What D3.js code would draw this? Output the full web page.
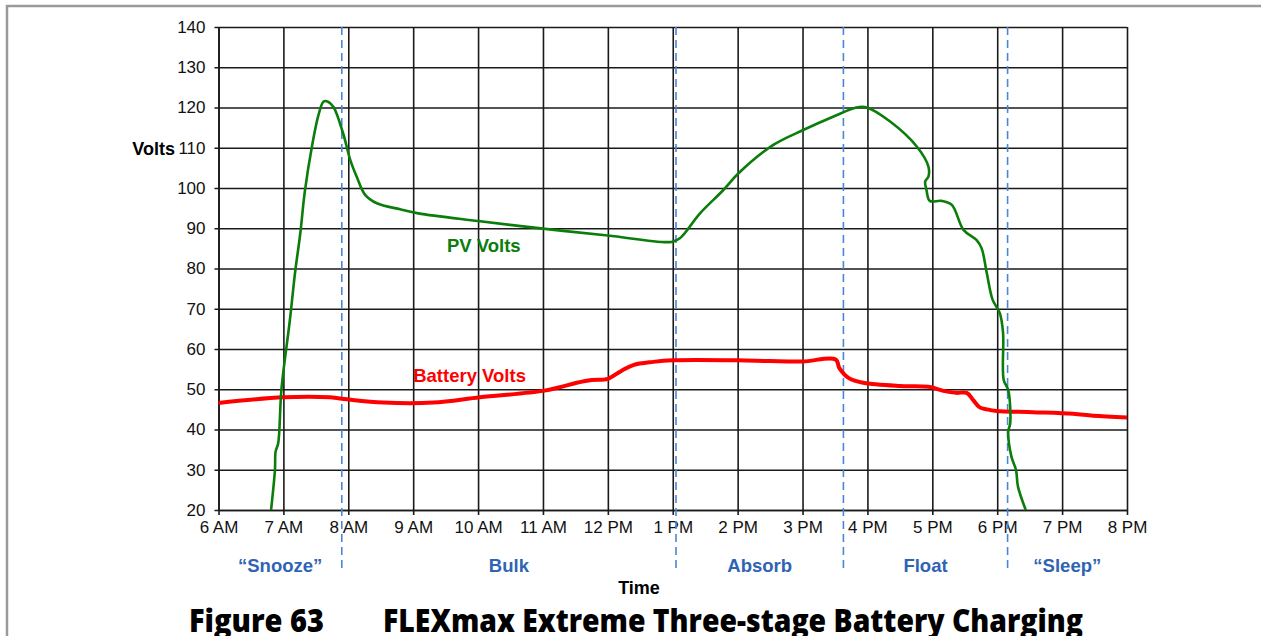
<!DOCTYPE html>
<html>
<head>
<meta charset="utf-8">
<script src="https://cdn.jsdelivr.net/npm/d3@7"></script>
<style>
body { margin: 0; background: #fff; }
text { font-family: "Liberation Sans", Arial, sans-serif; }
</style>
</head>
<body>
<script>
var width = 1261;
var height = 636;

// time in hours of the day (6 = 6 AM, 20 = 8 PM)
const tickHours = [6, 7, 8, 9, 10, 11, 12, 13, 14, 15, 16, 17, 18, 19, 20];
const tickLabels = ["6 AM", "7 AM", "8 AM", "9 AM", "10 AM", "11 AM", "12 PM",
    "1 PM", "2 PM", "3 PM", "4 PM", "5 PM", "6 PM", "7 PM", "8 PM"];
const voltTicks = [20, 30, 40, 50, 60, 70, 80, 90, 100, 110, 120, 130, 140];

const phaseEdges = [6, 7.9, 13.05, 15.63, 18.16, 20];
const phaseNames = ["\u201CSnooze\u201D", "Bulk", "Absorb", "Float", "\u201CSleep\u201D"];

const pvTime = [6.81, 6.87, 6.88, 6.92, 6.97, 7.10, 7.18, 7.26, 7.33, 7.44, 7.54, 7.62, 7.68, 7.77,
    7.92, 8.03, 8.13, 8.26, 8.44, 8.80, 9.08, 10.0, 11.0, 12.0, 12.98,
    13.11, 13.42, 13.78, 14.01, 14.55, 15.01, 15.47, 15.83, 15.99, 16.35, 16.76,
    16.94, 16.94, 16.89, 16.91, 16.96, 17.14, 17.30, 17.48, 17.68, 17.76, 17.84, 17.93,
    18.04, 18.09, 18.10, 18.17, 18.20, 18.17, 18.22, 18.29, 18.32, 18.44];
const pvVolts = [20, 30, 34.5, 36.6, 50, 67.2, 79.0, 88.7, 99.1, 110.3, 118.1, 121.5, 121.5, 120.2,
    113.6, 107, 102.8, 98.3, 96.2, 94.7, 93.7, 91.8, 89.9, 88.2, 86.6,
    87.5, 93.7, 99.5, 103.6, 110.7, 114.4, 117.7, 120, 120, 116.5, 110.3,
    105.3, 102.8, 101.6, 99.5, 96.8, 96.8, 95.8, 89.6, 87.1, 85, 78.8, 72.2,
    68.9, 64, 52.3, 49.8, 41.5, 39.5, 33.2, 29.9, 25.8, 20];

const batTime = [6.0, 7.0, 7.72, 7.98, 8.54, 9.31, 10.03, 11.0, 11.26, 11.52, 11.75, 12.0, 12.2,
    12.39, 12.7, 13.0, 14.0, 14.5, 15.0, 15.51, 15.57, 15.72, 15.94, 16.5, 16.94, 17.17,
    17.37, 17.53, 17.63, 17.73, 17.84, 17.99, 18.55, 19.17, 19.48, 20.0];
const batVolts = [46.6, 48.0, 48.0, 47.5, 46.7, 46.7, 48.0, 49.6, 50.5, 51.6, 52.3, 52.6, 54.5,
    56.0, 56.8, 57.2, 57.2, 57.0, 56.9, 57.4, 55.2, 52.7, 51.6, 50.8, 50.6, 49.6,
    49.1, 49.1, 47.3, 45.5, 45.0, 44.6, 44.3, 43.9, 43.4, 43.0];

var x = d3.scaleLinear().domain([6, 20]).range([218.5, 1127]);
var y = d3.scaleLinear().domain([20, 140]).range([510, 27]);

var svg = d3.select("body").append("svg")
    .attr("width", width)
    .attr("height", height);

// page frame
svg.append("path")
    .attr("d", "M7,636 V6 H1261")
    .attr("fill", "none")
    .attr("stroke", "#9a9a9a")
    .attr("stroke-width", 2.5);

// grid + axes
var xAxis = svg.append("g")
    .attr("transform", "translate(0,510)")
    .call(d3.axisBottom(x)
        .tickValues(tickHours)
        .tickFormat(function(d, i) { return tickLabels[i]; })
        .tickSizeOuter(0)
        .tickSizeInner(4)
        .tickPadding(7));
xAxis.select(".domain").attr("stroke", "#1a1a1a").attr("stroke-width", 1.6);
xAxis.selectAll(".tick line")
    .attr("y2", -483)
    .attr("y1", 5)
    .attr("stroke", "#1a1a1a")
    .attr("stroke-width", 1.6);
xAxis.selectAll(".tick text")
    .attr("font-size", 17)
    .attr("fill", "#111");

var yAxis = svg.append("g")
    .attr("transform", "translate(218.5,0)")
    .call(d3.axisLeft(y)
        .tickValues(voltTicks)
        .tickSizeOuter(0)
        .tickPadding(7));
yAxis.select(".domain").attr("stroke", "#1a1a1a").attr("stroke-width", 1.6);
yAxis.selectAll(".tick line")
    .attr("x1", -4)
    .attr("x2", 1127 - 218.5)
    .attr("stroke", "#1a1a1a")
    .attr("stroke-width", 1.6);
yAxis.selectAll(".tick text")
    .attr("font-size", 17)
    .attr("fill", "#111");

// phase dividers
svg.append("g").selectAll("line")
    .data(phaseEdges.slice(1, -1))
    .enter()
    .append("line")
    .attr("x1", function(d) { return x(d); })
    .attr("x2", function(d) { return x(d); })
    .attr("y1", 27)
    .attr("y2", 573)
    .attr("stroke", "#4a86d8")
    .attr("stroke-width", 1.6)
    .attr("stroke-dasharray", "8,5");

svg.append("g").selectAll("text")
    .data(phaseNames)
    .enter()
    .append("text")
    .attr("x", function(d, i) { return (x(phaseEdges[i]) + x(phaseEdges[i + 1])) / 2; })
    .attr("y", 572)
    .attr("text-anchor", "middle")
    .attr("font-size", 18.5)
    .attr("font-weight", "bold")
    .attr("fill", "#2e64b3")
    .text(function(d) { return d; });

// lines
var line = d3.line()
    .x(function(d) { return x(d[0]); })
    .y(function(d) { return y(d[1]); });

svg.append("path")
    .datum(batTime.map(function(t, i) { return [t, batVolts[i]]; }))
    .attr("d", line.curve(d3.curveCatmullRom.alpha(0.5)))
    .attr("fill", "none")
    .attr("stroke", "#ff0000")
    .attr("stroke-width", 4)
    .attr("stroke-linejoin", "round");

svg.append("path")
    .datum(pvTime.map(function(t, i) { return [t, pvVolts[i]]; }))
    .attr("d", line.curve(d3.curveCatmullRom.alpha(0.5)))
    .attr("fill", "none")
    .attr("stroke", "#0a7d0a")
    .attr("stroke-width", 2.6)
    .attr("stroke-linejoin", "round");

// labels
svg.append("text")
    .attr("x", 175).attr("y", 155)
    .attr("text-anchor", "end")
    .attr("font-size", 18).attr("font-weight", "bold").attr("fill", "#000")
    .text("Volts");

svg.append("text")
    .attr("x", x(9.52)).attr("y", 252)
    .attr("font-size", 18.5).attr("font-weight", "bold").attr("fill", "#0a7d0a")
    .text("PV Volts");

svg.append("text")
    .attr("x", x(9.0)).attr("y", 382)
    .attr("font-size", 18.5).attr("font-weight", "bold").attr("fill", "#ff0000")
    .text("Battery Volts");

svg.append("text")
    .attr("x", 639).attr("y", 594)
    .attr("text-anchor", "middle")
    .attr("font-size", 18).attr("font-weight", "bold").attr("fill", "#000")
    .text("Time");

// figure caption (condensed heavy face, cut at the bottom edge like the original)
svg.append("text")
    .attr("x", 189).attr("y", 632)
    .style("font-family", "'Open Sans', sans-serif")
    .attr("font-size", 31).attr("font-weight", 800).attr("fill", "#000")
    .attr("textLength", 135).attr("lengthAdjust", "spacingAndGlyphs")
    .text("Figure 63");

svg.append("text")
    .attr("x", 383).attr("y", 632)
    .style("font-family", "'Open Sans', sans-serif")
    .attr("font-size", 31).attr("font-weight", 800).attr("fill", "#000")
    .attr("textLength", 700).attr("lengthAdjust", "spacingAndGlyphs")
    .text("FLEXmax Extreme Three-stage Battery Charging");
</script>
</body>
</html>
